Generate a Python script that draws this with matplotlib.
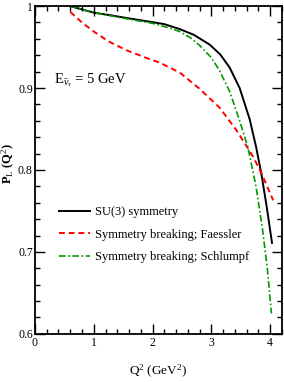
import matplotlib
matplotlib.use("Agg")
import matplotlib.pyplot as plt
from matplotlib.ticker import MultipleLocator

plt.rcParams["font.family"] = ["Liberation Serif", "DejaVu Serif"]
plt.rcParams["mathtext.fontset"] = "custom"
plt.rcParams["mathtext.rm"] = "Liberation Serif"
plt.rcParams["mathtext.it"] = "Liberation Serif:italic"

# values
q2_su3 = [0.6, 1.0, 1.27, 1.6, 1.95, 2.2, 2.46, 2.7, 2.97, 3.15, 3.31, 3.48, 3.65, 3.76, 3.85, 3.94, 4.03]
pl_su3 = [1.0, 0.992, 0.989, 0.985, 0.981, 0.978, 0.972, 0.965, 0.953, 0.941, 0.925, 0.900, 0.862, 0.828,
          0.795, 0.755, 0.711]

q2_faessler = [0.6, 0.8, 1.0, 1.25, 1.56, 1.85, 2.12, 2.46, 2.8, 3.14, 3.42, 3.59, 3.71, 3.85, 4.05]
pl_faessler = [0.993, 0.980, 0.969, 0.957, 0.946, 0.938, 0.931, 0.919, 0.899, 0.876, 0.849, 0.830, 0.816,
               0.796, 0.763]

q2_schlumpf = [0.6, 1.0, 1.6, 2.0, 2.3, 2.46, 2.65, 2.8, 3.0, 3.14, 3.31, 3.48, 3.62, 3.76, 3.87, 3.95, 4.02]
pl_schlumpf = [1.0, 0.992, 0.984, 0.979, 0.973, 0.969, 0.961, 0.952, 0.937, 0.921, 0.896, 0.860, 0.828,
               0.779, 0.727, 0.680, 0.625]

labels = ["SU(3) symmetry", "Symmetry breaking; Faessler", "Symmetry breaking; Schlumpf"]

fig = plt.figure(figsize=(2.84, 3.82), dpi=100)
ax = fig.add_axes([0.123, 0.126, 0.870, 0.858])

ax.plot(q2_su3, pl_su3, color="black", lw=1.4, label=labels[0])
ax.plot(q2_faessler, pl_faessler, color="#ff0000", lw=1.4, ls=(0, (3, 2)), label=labels[1])
ax.plot(q2_schlumpf, pl_schlumpf, color="#009900", lw=1.2, ls=(0, (4, 1.5, 1, 1.5)), label=labels[2])

ax.set_xlim(0, 4.2)
ax.set_ylim(0.6, 1.0)
ax.xaxis.set_major_locator(MultipleLocator(1))
ax.xaxis.set_minor_locator(MultipleLocator(0.2))
ax.yaxis.set_major_locator(MultipleLocator(0.1))
ax.yaxis.set_minor_locator(MultipleLocator(0.02))
ax.set_yticks([0.6, 0.7, 0.8, 0.9, 1.0], ["0.6", "0.7", "0.8", "0.9", "1"])
ax.tick_params(which="both", direction="in", top=True, right=True, labelsize=8.5, width=1)
ax.tick_params(which="major", length=7, pad=2)
ax.tick_params(axis="y", which="major", pad=1.5)
ax.tick_params(which="minor", length=3.5)
for s in ax.spines.values():
    s.set_linewidth(1.3)

ax.set_xlabel(r"Q$^2$ (GeV$^2$)", fontsize=9.5, labelpad=10)
ax.set_ylabel(r"P$_\mathrm{L}$ (Q$^2$)", fontsize=9, fontweight="bold")
ax.yaxis.set_label_coords(-0.072, 0.52)

ax.text(0.33, 0.906, r"E$_{\bar{\nu}_\tau}$ = 5 GeV", fontsize=10.5, va="baseline")

ax.legend(loc="upper left", bbox_to_anchor=(0.097, 0.39), frameon=False, fontsize=9,
          handlelength=2.5, handletextpad=0.4, labelspacing=0.85, borderaxespad=0, borderpad=0)

fig.savefig("out.png", dpi=100)
